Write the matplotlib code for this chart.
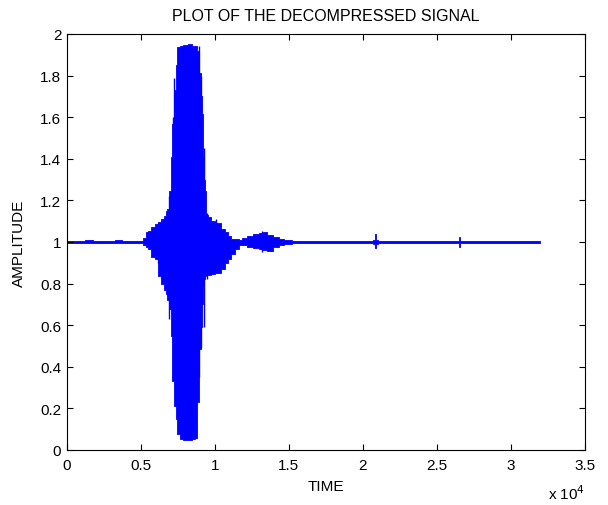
"""Decompressed signal plot, MATLAB look."""
import matplotlib
matplotlib.use("Agg")
import matplotlib.pyplot as plt

# envelope of the signal (sample index, upper, lower)
time = [0, 500, 1000, 1500, 2000, 2500, 3000, 3500, 4000, 4500, 5000,
        5300, 5400, 5600, 5830, 6060, 6280, 6490, 6620, 6730, 6780, 6960, 7070, 7180,
        7300, 7410, 7520, 7750, 8000, 8300, 8600, 8760, 8870, 8920, 9000, 9100, 9170,
        9260, 9320, 9370, 9440, 9600, 9880, 10200, 10560, 10800, 11010, 11220, 11500,
        11700, 12000, 12400, 12800, 13150, 13400, 13700, 14100, 14500, 14900,
        15500, 16000, 16700, 17400, 18000, 18700, 19300, 20000, 20600, 20800, 20850,
        20900, 21100, 21800, 22500, 23200, 24000, 24700, 25400, 26000, 26500, 26550,
        26600, 27300, 28000, 28700, 29400, 30100, 30800, 31500, 32000]
upper = [1.004, 1.007, 1.003, 1.008, 1.004, 1.007, 1.004, 1.008, 1.004, 1.007, 1.005,
         1.020, 1.050, 1.055, 1.070, 1.085, 1.095, 1.110, 1.127, 1.150, 1.160, 1.247, 1.410, 1.567,
         1.730, 1.850, 1.936, 1.940, 1.945, 1.950, 1.942, 1.940, 1.920, 1.870, 1.810, 1.700, 1.615,
         1.410, 1.300, 1.247, 1.130, 1.120, 1.103, 1.090, 1.063, 1.050, 1.030, 1.015, 1.012,
         1.010, 1.020, 1.028, 1.038, 1.045, 1.048, 1.035, 1.022, 1.015, 1.010,
         1.006, 1.004, 1.007, 1.003, 1.005, 1.003, 1.006, 1.004, 1.005, 1.008, 1.038,
         1.008, 1.005, 1.003, 1.006, 1.004, 1.005, 1.003, 1.006, 1.004, 1.006, 1.024,
         1.006, 1.004, 1.005, 1.003, 1.006, 1.004, 1.005, 1.004, 1.003]
lower = [0.997, 0.994, 0.997, 0.993, 0.996, 0.994, 0.996, 0.993, 0.996, 0.994, 0.996,
         0.985, 0.975, 0.966, 0.930, 0.918, 0.838, 0.800, 0.770, 0.750, 0.720, 0.678, 0.550, 0.333,
         0.213, 0.150, 0.077, 0.053, 0.050, 0.050, 0.053, 0.060, 0.230, 0.357, 0.486, 0.590, 0.700,
         0.790, 0.820, 0.838, 0.840, 0.842, 0.846, 0.850, 0.870, 0.900, 0.918, 0.940, 0.966,
         0.985, 0.985, 0.978, 0.970, 0.965, 0.962, 0.958, 0.975, 0.985, 0.990,
         0.995, 0.996, 0.994, 0.996, 0.995, 0.996, 0.994, 0.995, 0.995, 0.992, 0.970,
         0.992, 0.995, 0.996, 0.994, 0.995, 0.995, 0.996, 0.994, 0.995, 0.995, 0.976,
         0.994, 0.995, 0.995, 0.996, 0.994, 0.995, 0.995, 0.995, 0.996]

# isolated long swings sticking out of the burst envelope
spike_time = [6150, 6450, 6900, 7150, 7220, 8950, 9080, 9250, 9500, 10100, 13200]
spike_low = [0.90, 0.82, 0.63, 0.34, 0.60, 0.35, 0.49, 0.59, 0.82, 0.86, 0.95]
spike_high = [1.09, 1.10, 1.22, 1.60, 1.79, 1.94, 1.80, 1.45, 1.14, 1.11, 1.055]

x_ticks = [0, 5000, 10000, 15000, 20000, 25000, 30000, 35000]
x_labels = ["0", "0.5", "1", "1.5", "2", "2.5", "3", "3.5"]
y_ticks = [0, 0.2, 0.4, 0.6, 0.8, 1, 1.2, 1.4, 1.6, 1.8, 2]
y_labels = ["0", "0.2", "0.4", "0.6", "0.8", "1", "1.2", "1.4", "1.6", "1.8", "2"]

plt.rcParams["font.family"] = ["Liberation Sans", "DejaVu Sans"]

fig = plt.figure(figsize=(6.08, 5.06), dpi=100)
ax = fig.add_axes([0.110, 0.1087, 0.852, 0.8222])

ax.fill_between(time, lower, upper, step="mid", color="#0000ff", linewidth=0.6, edgecolor="#0000ff")
ax.vlines(spike_time, spike_low, spike_high, color="#0000ff", linewidth=1.0)

ax.set_xlim(0, 35000)
ax.set_ylim(0, 2)
ax.set_xticks(x_ticks)
ax.set_xticklabels(x_labels)
ax.set_yticks(y_ticks)
ax.set_yticklabels(y_labels)
ax.tick_params(direction="in", length=4, width=0.8, top=True, right=True, labelsize=11)
ax.tick_params(axis="x", pad=6)
ax.tick_params(axis="y", pad=4)
for spine in ax.spines.values():
    spine.set_linewidth(0.8)

ax.set_title("PLOT OF THE DECOMPRESSED SIGNAL", fontsize=11.5, pad=10)
ax.set_xlabel("TIME", fontsize=11, labelpad=5)
ax.set_ylabel("AMPLITUDE", fontsize=11, labelpad=10)
fig.text(0.902, 0.012, r"x 10$^4$", fontsize=11)

fig.savefig("out.png", dpi=100)
